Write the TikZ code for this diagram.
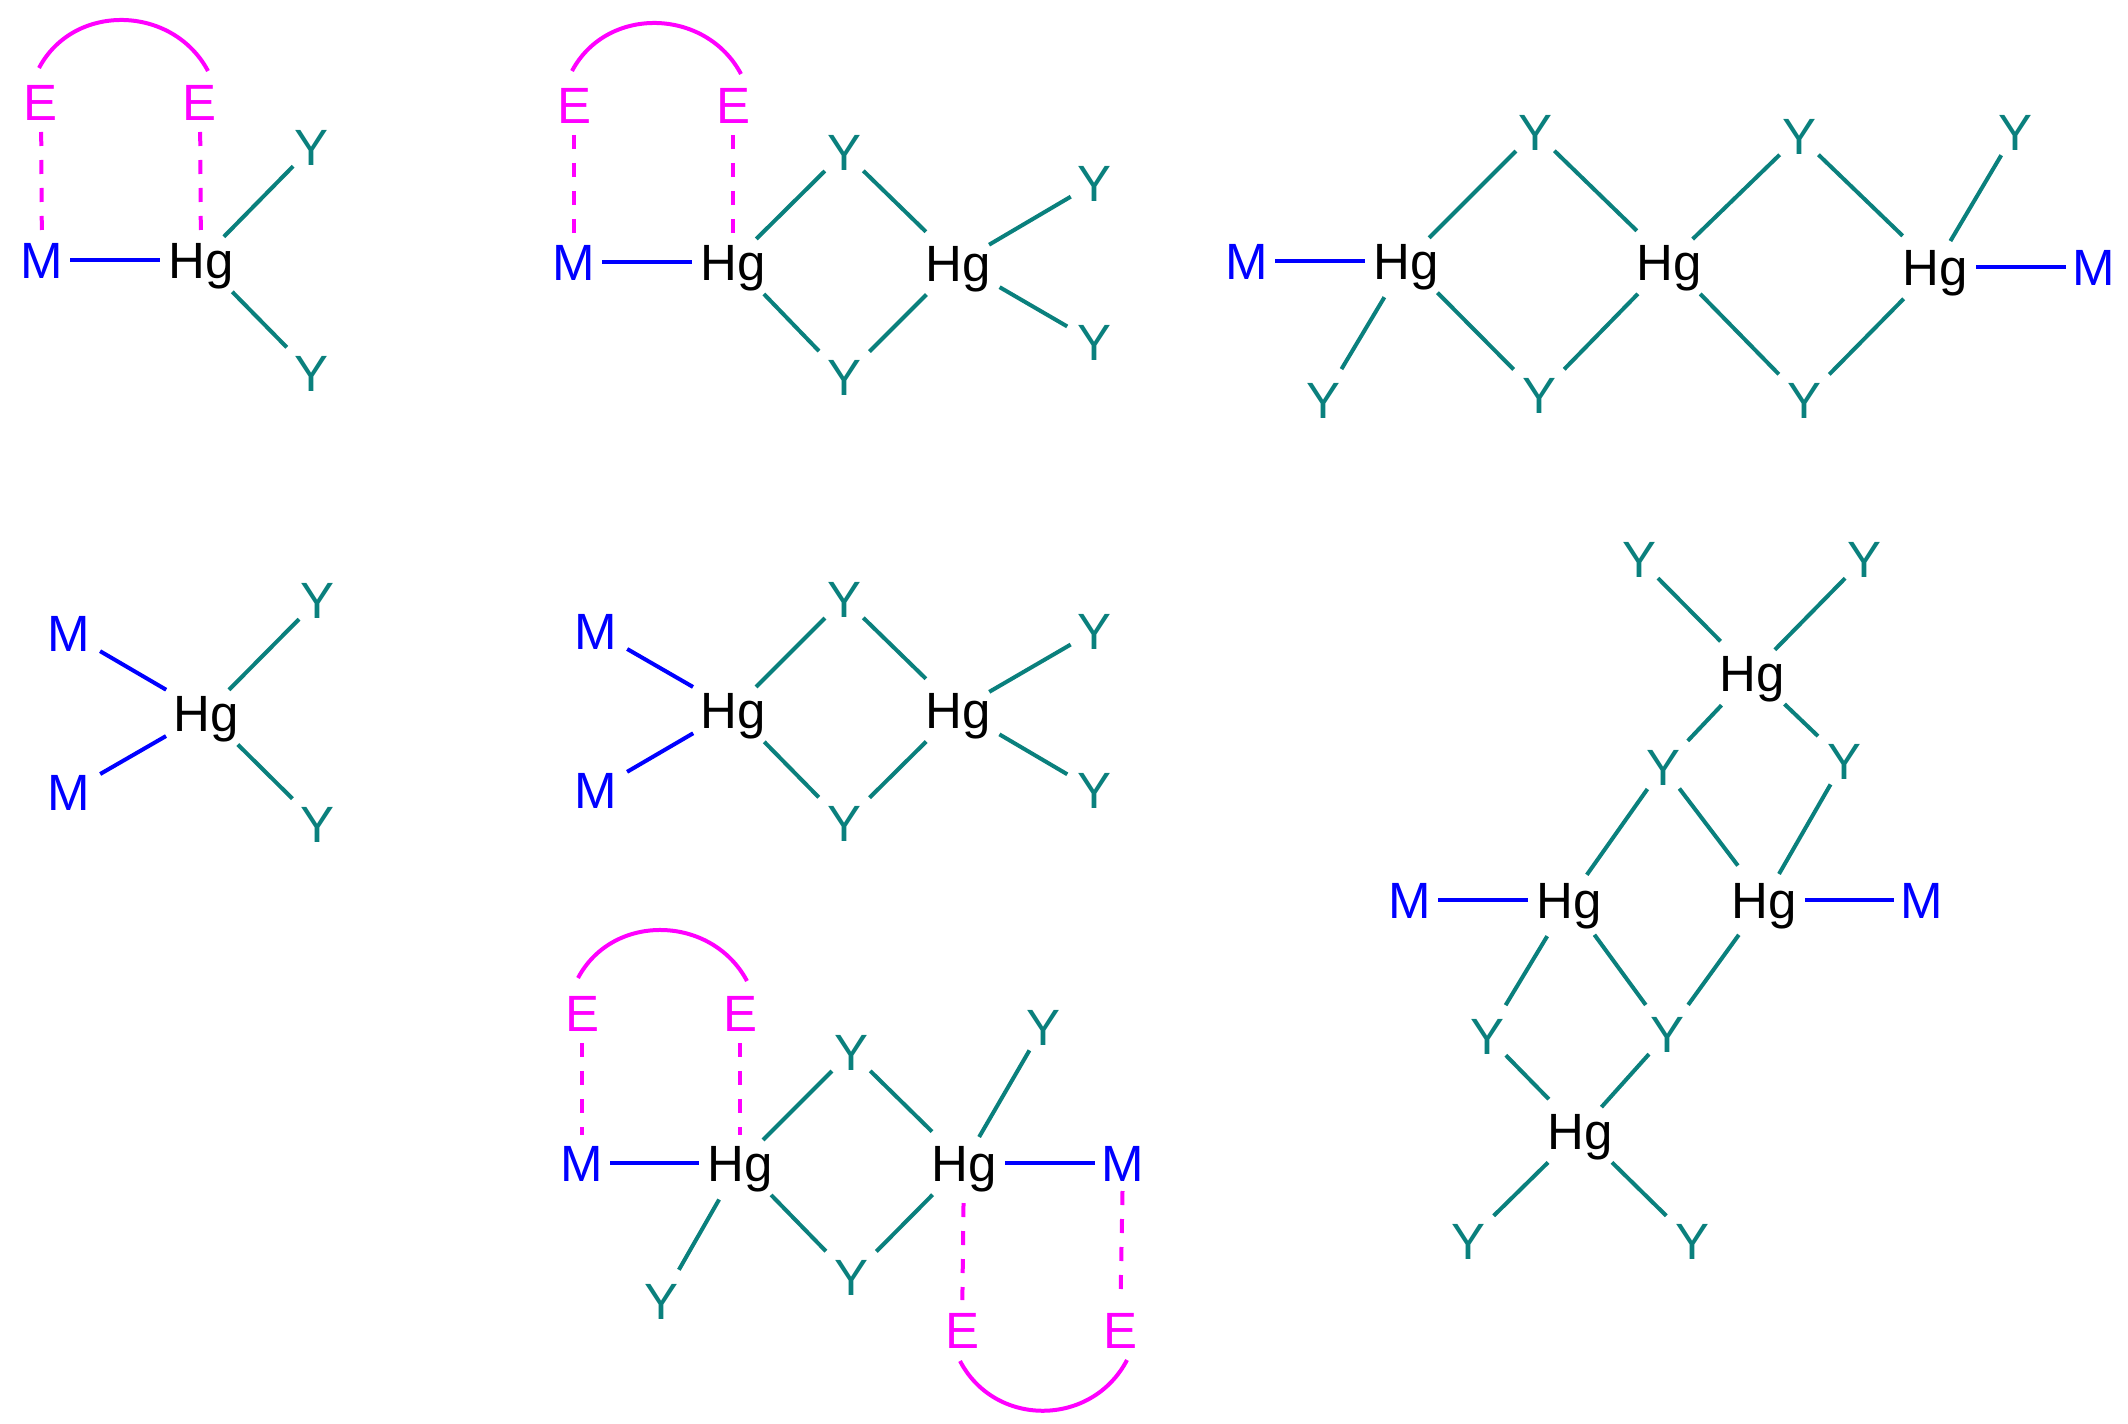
\documentclass[tikz,border=0pt]{standalone}
\usepackage{fontspec}
\setmainfont{Liberation Sans}
\usetikzlibrary{shapes.geometric}
\definecolor{tealY}{RGB}{10,128,125}
\definecolor{blueM}{RGB}{0,0,255}
\definecolor{magE}{RGB}{255,0,255}
\newcommand{\mk}[1]{\makebox[0pt]{\smash{\raisebox{-0.358em}{#1}}}}
\tikzset{
  atomtext/.style={inner sep=0pt,outer sep=0pt,font=\fontsize{25.5}{30}\selectfont},
  atomH/.style={atomtext,ellipse,minimum width=41pt,minimum height=28pt,text=black},
  atomM/.style={atomtext,circle,minimum size=28pt,text=blueM},
  atomE/.style={atomtext,circle,minimum size=30pt,text=magE},
  atomY/.style={atomtext,circle,minimum size=27pt,text=tealY},
  bondY/.style={draw=tealY,line width=2pt},
  bondYul/.style={bondY,shorten <=6pt},
  bondYdown/.style={bondY,shorten <=6pt,shorten >=4.5pt},
  bondYside/.style={bondY,shorten <=6pt,shorten >=2pt},
  bondM/.style={draw=blueM,line width=2pt},
  bondMdiag/.style={bondM,shorten <=4pt,shorten >=5pt},
  linkE/.style={draw=magE,line width=2pt,dash pattern=on 7pt off 7pt},
  linkElow/.style={linkE,shorten <=6pt},
  arcE/.style={draw=magE,line width=2pt}
}
\begin{document}
\begin{tikzpicture}[x=0.5pt,y=-0.5pt]
\useasboundingbox (0,0) rectangle (2128,1423);
\fill[white] (0,0) rectangle (2128,1423);
% panel 1
\node[atomM] (aM) at (42,260) {\mk{M}};
\node[atomH] (aH) at (201,260) {\mk{Hg}};
\node[atomE] (aE1) at (41,102) {\mk{E}};
\node[atomE] (aE2) at (200,102) {\mk{E}};
\node[atomY] (aY1) at (312,147) {\mk{Y}};
\node[atomY] (aY2) at (312,373) {\mk{Y}};
\draw[bondM] (aM) -- (aH);
\draw[linkE] (aE1) -- (aM);
\draw[linkE] (aE2) -- (aH);
\draw[bondY] (aH) -- (aY1);
\draw[bondYdown] (aH) -- (aY2);
\draw[arcE] ([shift={(-2,-34)}]aE1.center) .. controls +(35,-66) and +(-35,-66) .. ([shift={(8,-31)}]aE2.center);
% panel 2
\node[atomM] (bM) at (574,262) {\mk{M}};
\node[atomH] (bH1) at (733,262) {\mk{Hg}};
\node[atomH] (bH2) at (958,263) {\mk{Hg}};
\node[atomE] (bE1) at (574,105) {\mk{E}};
\node[atomE] (bE2) at (733,105) {\mk{E}};
\node[atomY] (bY1) at (844,152) {\mk{Y}};
\node[atomY] (bY2) at (844,377) {\mk{Y}};
\node[atomY] (bY3) at (1094,183) {\mk{Y}};
\node[atomY] (bY4) at (1094,342) {\mk{Y}};
\draw[bondM] (bM) -- (bH1);
\draw[linkE] (bE1) -- (bM);
\draw[linkE] (bE2) -- (bH1);
\draw[bondY] (bH1) -- (bY1);
\draw[bondYul] (bH2) -- (bY1);
\draw[bondYdown] (bH1) -- (bY2);
\draw[bondYdown] (bH2) -- (bY2);
\draw[bondY] (bH2) -- (bY3);
\draw[bondYside] (bH2) -- (bY4);
\draw[arcE] ([shift={(-2,-34)}]bE1.center) .. controls +(35,-66) and +(-35,-66) .. ([shift={(8,-31)}]bE2.center);
% panel 3
\node[atomM] (cM1) at (1247,261) {\mk{M}};
\node[atomH] (cH1) at (1406,261) {\mk{Hg}};
\node[atomH] (cH2) at (1669,262) {\mk{Hg}};
\node[atomH] (cH3) at (1935,267) {\mk{Hg}};
\node[atomM] (cM2) at (2094,267) {\mk{M}};
\node[atomY] (cY1) at (1535,132) {\mk{Y}};
\node[atomY] (cY2) at (1799,136) {\mk{Y}};
\node[atomY] (cY3) at (2015,132) {\mk{Y}};
\node[atomY] (cY4) at (1323,400) {\mk{Y}};
\node[atomY] (cY5) at (1539,395) {\mk{Y}};
\node[atomY] (cY6) at (1804,400) {\mk{Y}};
\draw[bondM] (cM1) -- (cH1);
\draw[bondM] (cH3) -- (cM2);
\draw[bondY] (cH1) -- (cY1);
\draw[bondYul] (cH2) -- (cY1);
\draw[bondY] (cH2) -- (cY2);
\draw[bondYul] (cH3) -- (cY2);
\draw[bondY] (cH3) -- (cY3);
\draw[bondYdown] (cH1) -- (cY4);
\draw[bondYdown] (cH1) -- (cY5);
\draw[bondYdown] (cH2) -- (cY5);
\draw[bondYdown] (cH2) -- (cY6);
\draw[bondYdown] (cH3) -- (cY6);
% panel 4
\node[atomH] (dH) at (206,713) {\mk{Hg}};
\node[atomM] (dM1) at (69,633) {\mk{M}};
\node[atomM] (dM2) at (69,792) {\mk{M}};
\node[atomY] (dY1) at (318,600) {\mk{Y}};
\node[atomY] (dY2) at (318,824) {\mk{Y}};
\draw[bondMdiag] (dM1) -- (dH);
\draw[bondMdiag] (dM2) -- (dH);
\draw[bondY] (dH) -- (dY1);
\draw[bondYdown] (dH) -- (dY2);
% panel 5
\node[atomH] (eH1) at (733,710) {\mk{Hg}};
\node[atomH] (eH2) at (958,710) {\mk{Hg}};
\node[atomM] (eM1) at (596,631) {\mk{M}};
\node[atomM] (eM2) at (596,790) {\mk{M}};
\node[atomY] (eY1) at (844,599) {\mk{Y}};
\node[atomY] (eY2) at (844,823) {\mk{Y}};
\node[atomY] (eY3) at (1094,631) {\mk{Y}};
\node[atomY] (eY4) at (1094,790) {\mk{Y}};
\draw[bondMdiag] (eM1) -- (eH1);
\draw[bondMdiag] (eM2) -- (eH1);
\draw[bondY] (eH1) -- (eY1);
\draw[bondYul] (eH2) -- (eY1);
\draw[bondYdown] (eH1) -- (eY2);
\draw[bondYdown] (eH2) -- (eY2);
\draw[bondY] (eH2) -- (eY3);
\draw[bondYside] (eH2) -- (eY4);
% panel 6
\node[atomM] (fM1) at (582,1163) {\mk{M}};
\node[atomH] (fH1) at (740,1163) {\mk{Hg}};
\node[atomH] (fH2) at (964,1163) {\mk{Hg}};
\node[atomM] (fM2) at (1123,1163) {\mk{M}};
\node[atomE] (fE1) at (582,1013) {\mk{E}};
\node[atomE] (fE2) at (740,1013) {\mk{E}};
\node[atomE] (fE3) at (962,1330) {\mk{E}};
\node[atomE] (fE4) at (1120,1330) {\mk{E}};
\node[atomY] (fY1) at (851,1052) {\mk{Y}};
\node[atomY] (fY2) at (851,1277) {\mk{Y}};
\node[atomY] (fY3) at (1043,1027) {\mk{Y}};
\node[atomY] (fY4) at (661,1301) {\mk{Y}};
\draw[bondM] (fM1) -- (fH1);
\draw[bondM] (fH2) -- (fM2);
\draw[linkE] (fE1) -- (fM1);
\draw[linkE] (fE2) -- (fH1);
\draw[linkElow] (fH2) -- (fE3);
\draw[linkE] (fM2) -- (fE4);
\draw[bondY] (fH1) -- (fY1);
\draw[bondYul] (fH2) -- (fY1);
\draw[bondYdown] (fH1) -- (fY2);
\draw[bondYdown] (fH2) -- (fY2);
\draw[bondY] (fH2) -- (fY3);
\draw[bondYdown] (fH1) -- (fY4);
\draw[arcE] ([shift={(-4,-35)}]fE1.center) .. controls +(35,-66) and +(-35,-66) .. ([shift={(7,-32)}]fE2.center);
\draw[arcE] ([shift={(-2,31)}]fE3.center) .. controls +(35,67) and +(-35,67) .. ([shift={(7,30)}]fE4.center);
% panel 7
\node[atomH] (gH1) at (1752,673) {\mk{Hg}};
\node[atomH] (gH2) at (1569,900) {\mk{Hg}};
\node[atomH] (gH3) at (1764,900) {\mk{Hg}};
\node[atomH] (gH4) at (1580,1131) {\mk{Hg}};
\node[atomM] (gM1) at (1410,900) {\mk{M}};
\node[atomM] (gM2) at (1922,900) {\mk{M}};
\node[atomY] (gY1) at (1639,559) {\mk{Y}};
\node[atomY] (gY2) at (1864,559) {\mk{Y}};
\node[atomY] (gY3) at (1663,767) {\mk{Y}};
\node[atomY] (gY4) at (1844,761) {\mk{Y}};
\node[atomY] (gY5) at (1487,1036) {\mk{Y}};
\node[atomY] (gY6) at (1667,1034) {\mk{Y}};
\node[atomY] (gY7) at (1468,1241) {\mk{Y}};
\node[atomY] (gY8) at (1692,1241) {\mk{Y}};
\draw[bondM] (gM1) -- (gH2);
\draw[bondM] (gH3) -- (gM2);
\draw[bondYul] (gH1) -- (gY1);
\draw[bondY] (gH1) -- (gY2);
\draw[bondYdown] (gH1) -- (gY3);
\draw[bondYdown] (gH1) -- (gY4);
\draw[bondY] (gH2) -- (gY3);
\draw[bondYul] (gH3) -- (gY3);
\draw[bondY] (gH3) -- (gY4);
\draw[bondYdown] (gH2) -- (gY5);
\draw[bondYdown] (gH2) -- (gY6);
\draw[bondYdown] (gH3) -- (gY6);
\draw[bondYul] (gH4) -- (gY5);
\draw[bondY] (gH4) -- (gY6);
\draw[bondYdown] (gH4) -- (gY7);
\draw[bondYdown] (gH4) -- (gY8);
\end{tikzpicture}
\end{document}
